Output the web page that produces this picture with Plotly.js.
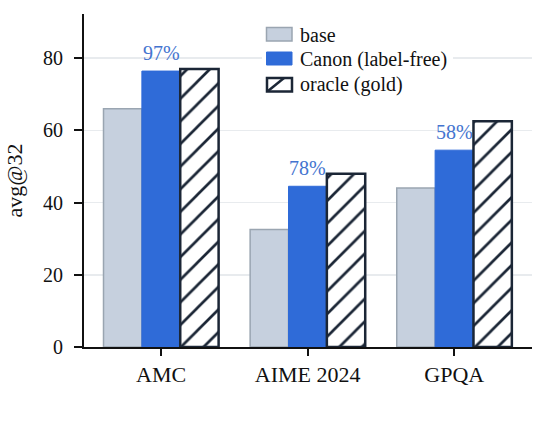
<!DOCTYPE html>
<html><head><meta charset="utf-8">
<script src="https://cdn.plot.ly/plotly-3.0.1.min.js"></script>
<style>html,body{margin:0;padding:0;background:#fff}</style>
</head><body><div id="chart" style="width:540px;height:422px"></div>
<script>
const categories = ["AMC", "AIME 2024", "GPQA"];
const seriesNames = ["base", "Canon (label-free)", "oracle (gold)"];
const baseValues = [66, 32.5, 44];
const canonValues = [76.4, 44.5, 54.5];
const oracleValues = [77, 48, 62.5];
const gapLabels = ["97%", "78%", "58%"];
const yTicks = [0, 20, 40, 60, 80];
const serif = '"Liberation Serif", serif';
const W = 540, H = 422, L = 84, R = 8, T = 14, B = 75;
const px = v => (v - L) / (W - L - R);
const py = v => (H - B - v) / (H - T - B);
const colors = {base:'#c6d0de', baseEdge:'#9aa5b1', canon:'#2f6bd8', dark:'#1b2636'};

const traces = [
  {type:'bar', name:seriesNames[0], x:categories, y:baseValues,
   marker:{color:colors.base, line:{color:colors.baseEdge, width:1.5}}},
  {type:'bar', name:seriesNames[1], x:categories, y:canonValues,
   marker:{color:colors.canon, line:{color:colors.canon, width:1}}},
  {type:'bar', name:seriesNames[2], x:categories, y:oracleValues,
   marker:{color:'#ffffff', line:{color:colors.dark, width:2.5},
     pattern:{shape:'/', size:16, solidity:0.17, fgcolor:colors.dark, bgcolor:'#ffffff', fillmode:'replace'}}}
];
const rect = (x0,y0,x1,y1,fill,line,w) => ({type:'rect', xref:'paper', yref:'paper', layer:'above',
  x0:px(x0), x1:px(x1), y0:py(y1), y1:py(y0), fillcolor:fill, line:{color:line, width:w}});
const legendShapes = [
  rect(262,22,453,97,'#ffffff','#ffffff',0),
  rect(266.5,27.5,292,41,colors.base,colors.baseEdge,1.5),
  rect(266.5,52,292,65,colors.canon,colors.canon,1),
  rect(267,78,292,91.5,'#ffffff',colors.dark,2.5),
  {type:'line', xref:'paper', yref:'paper', layer:'above', x0:px(268), y0:py(91), x1:px(284), y1:py(78),
   line:{color:colors.dark, width:2.5}}
];
const legendRows = [34.5, 59.5, 85];
const legendText = seriesNames.map((n,i)=>({xref:'paper', yref:'paper', x:px(300), y:py(legendRows[i]), text:n,
  xanchor:'left', yanchor:'middle', showarrow:false, xshift:-2, font:{family:serif, size:20, color:'#111'}}));
const gapText = categories.map((c,i)=>({x:c, y:canonValues[i], xref:'x', yref:'y', text:gapLabels[i],
  showarrow:false, yanchor:'bottom', yshift:5, font:{family:serif, size:20, color:'#4474cf'}}));
const layout = {
  width:W, height:H,
  margin:{l:L, r:R, t:T, b:B},
  paper_bgcolor:'#fff', plot_bgcolor:'#fff',
  font:{family:serif, size:20, color:'#111'},
  showlegend:false,
  barmode:'group', bargap:0.215, bargroupgap:0,
  xaxis:{range:[-0.5256, 2.53], type:'category', showline:true, linecolor:'#111', linewidth:2,
    ticks:'outside', ticklen:7, tickwidth:2, tickcolor:'#111', showgrid:false, zeroline:false,
    tickfont:{family:serif, size:22}},
  yaxis:{range:[0, 92.2], tickvals:yTicks, showline:true, linecolor:'#111', linewidth:2,
    ticks:'outside', ticklen:8, tickwidth:2, tickcolor:'#111', ticklabelstandoff:7,
    showgrid:true, gridcolor:'#e8ebee', gridwidth:1.5, zeroline:false,
    tickfont:{family:serif, size:20},
    title:{text:'avg@32', font:{family:serif, size:22}, standoff:14}},
  shapes:legendShapes,
  annotations:gapText.concat(legendText)
};
Plotly.newPlot('chart', traces, layout, {displayModeBar:false, staticPlot:true});
</script></body></html>
